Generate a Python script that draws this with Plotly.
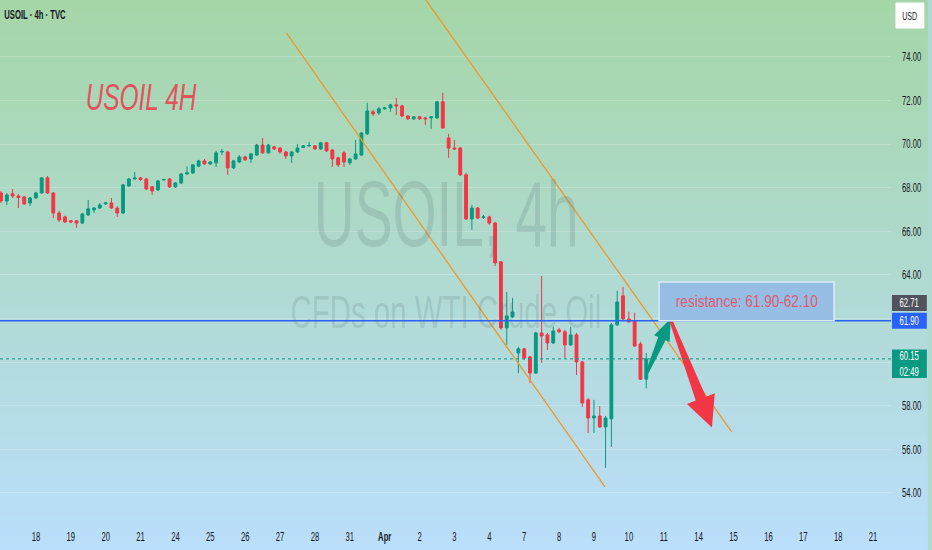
import json, zlib, struct, base64
import plotly.graph_objects as go

# ---------------- data ----------------
day_labels = ["17", "18", "19", "20", "21", "24", "25", "26", "27", "28", "31", "Apr",
              "2", "3", "4", "7", "8", "9", "10", "11", "14", "15", "16", "17", "18", "21"]
bars_per_day = 6

opens = [67.76, 67.39, 67.72, 67.62, 67.58, 67.30, 67.53, 67.76, 68.45, 67.76,
         66.84, 66.66, 66.48, 66.48, 66.38, 66.75, 66.98, 67.07, 67.26, 67.30,
         67.07, 66.84, 68.08, 68.40, 68.45, 68.40, 68.04, 67.90, 68.36, 68.40,
         68.04, 68.22, 68.63, 68.68, 68.99, 69.23, 69.09, 69.14, 69.64, 69.64,
         68.91, 69.18, 69.41, 69.32, 69.50, 69.96, 69.60, 69.87, 69.82, 69.64,
         69.46, 69.64, 69.85, 69.92, 69.92, 69.78, 70.06, 69.73, 69.37, 69.60,
         69.14, 69.32, 69.50, 70.47, 71.48, 71.43, 71.62, 71.66, 71.80, 71.75,
         71.29, 71.16, 71.25, 71.20, 71.20, 71.20, 71.94, 70.28, 69.82, 69.82,
         68.59, 66.57, 67.07, 66.64, 66.66, 66.38, 64.60, 61.57, 62.08, 60.42,
         60.61, 60.24, 59.50, 61.34, 61.25, 60.88, 61.48, 61.39, 60.79, 61.25,
         60.01, 58.27, 57.44, 57.53, 57.03, 57.40, 61.71, 63.04, 61.98, 61.89,
         60.83, 59.22]
highs = [67.85, 67.76, 67.94, 67.72, 67.62, 67.58, 67.81, 68.49, 68.54, 67.80,
         66.94, 66.71, 66.52, 66.52, 66.84, 67.44, 67.12, 67.30, 67.35, 67.53,
         67.16, 68.17, 68.45, 68.72, 68.49, 68.45, 68.08, 68.36, 68.40, 68.45,
         68.26, 68.68, 68.98, 69.09, 69.28, 69.32, 69.23, 69.69, 69.78, 69.69,
         69.28, 69.50, 69.46, 69.60, 70.01, 70.28, 70.01, 69.92, 69.87, 69.69,
         69.69, 70.01, 69.96, 70.10, 69.96, 70.10, 70.10, 69.78, 69.41, 69.69,
         69.37, 70.19, 70.56, 71.89, 71.57, 71.71, 71.71, 71.85, 72.12, 71.80,
         71.34, 71.29, 71.29, 71.25, 71.29, 71.98, 72.35, 70.47, 70.19, 69.87,
         68.68, 67.21, 67.12, 66.75, 66.71, 66.43, 64.64, 63.22, 62.95, 60.70,
         60.65, 60.28, 61.39, 63.95, 61.34, 61.62, 61.57, 61.48, 61.62, 61.34,
         60.06, 58.36, 58.27, 57.99, 57.53, 61.80, 63.27, 63.45, 62.31, 62.27,
         60.93, 60.42]
lows = [67.30, 67.21, 67.53, 67.07, 67.21, 67.16, 67.49, 67.72, 67.72, 66.61,
        66.43, 66.38, 66.38, 66.16, 66.34, 66.71, 66.84, 67.03, 67.21, 67.03,
        66.66, 66.80, 68.04, 68.36, 68.31, 67.90, 67.67, 67.85, 68.31, 67.99,
        67.99, 68.17, 68.59, 68.63, 68.94, 69.05, 69.05, 68.95, 69.50, 68.59,
        68.86, 69.14, 69.23, 69.14, 69.46, 69.55, 69.55, 69.73, 69.55, 69.32,
        69.14, 69.60, 69.82, 69.87, 69.73, 69.73, 69.64, 68.95, 68.95, 68.95,
        69.05, 69.28, 69.46, 70.42, 71.29, 71.34, 71.57, 71.48, 71.34, 71.25,
        71.11, 71.11, 71.11, 70.88, 70.70, 71.16, 70.70, 69.37, 69.73, 68.54,
        66.52, 66.07, 66.57, 66.57, 66.30, 64.41, 61.48, 60.79, 62.03, 59.50,
        60.10, 59.05, 59.46, 59.96, 60.56, 60.84, 61.34, 60.19, 60.74, 59.41,
        57.95, 56.75, 56.75, 56.98, 55.15, 56.11, 61.66, 61.94, 61.80, 60.70,
        59.18, 58.80]
closes = [67.39, 67.67, 67.62, 67.55, 67.26, 67.53, 67.76, 68.45, 67.76, 66.84,
          66.52, 66.43, 66.43, 66.38, 66.80, 67.03, 67.07, 67.21, 67.30, 67.07,
          66.84, 68.13, 68.40, 68.45, 68.38, 67.94, 67.85, 68.31, 68.38, 68.04,
          68.22, 68.63, 68.68, 69.05, 69.23, 69.09, 69.18, 69.60, 69.66, 68.91,
          69.23, 69.41, 69.28, 69.55, 69.96, 69.60, 69.96, 69.78, 69.64, 69.46,
          69.64, 69.82, 69.92, 69.94, 69.78, 70.06, 69.69, 69.32, 69.05, 69.18,
          69.32, 69.55, 70.51, 71.52, 71.39, 71.62, 71.66, 71.80, 71.75, 71.29,
          71.16, 71.25, 71.16, 71.16, 71.25, 71.94, 70.74, 69.82, 69.78, 68.59,
          66.57, 67.07, 66.61, 66.66, 66.38, 64.55, 61.57, 62.12, 62.30, 60.61,
          60.19, 59.50, 61.34, 61.20, 60.88, 61.43, 61.39, 60.79, 61.25, 60.01,
          58.13, 57.44, 57.53, 57.03, 57.44, 61.71, 62.76, 61.98, 61.85, 60.74,
          59.22, 60.15]

price_ticks = [54, 56, 58, 60, 62, 64, 66, 68, 70, 72, 74]
resistance_level = 61.90
last_price = 60.15
countdown = "02:49"
marker_price = 62.71

# drawings (bar index, price)
upper_channel_x = [73.1, 125.7]
upper_channel_y = [76.61, 56.80]
lower_channel_x = [49.1, 103.9]
lower_channel_y = [75.10, 54.28]
resistance_box_x = [113.2, 143.3]
resistance_box_y = [61.90, 63.68]
resistance_text = "resistance: 61.90-62.10"
up_arrow = [(111.1, 59.5), (115.2, 62.0)]
down_arrow = [(115.1, 62.0), (122.3, 57.0)]

# ---------------- style ----------------
W, H = 932, 550
ML, MR, MT, MB = 0, 37, 0, 30
PW, PH = W - ML - MR, H - MT - MB
XR = [-0.17, 153.1]
YR = [52.76, 76.61]
SX = PW / (XR[1] - XR[0])
SY = PH / (YR[1] - YR[0])

GREEN = "#089981"
RED = "#F23645"
ORANGE = "rgb(240,152,40)"
BLUE = "#2962FF"
TXT = "#131722"
FONT = "Liberation Sans, Arial, sans-serif"


def px_x(p):
    return p / PW


def px_y(p):
    return 1 - p / PH


def gradient_png(h, top, bot):
    raw = b""
    for i in range(h):
        t = i / (h - 1)
        c = [round(top[j] + (bot[j] - top[j]) * t) for j in range(3)]
        raw += b"\x00" + bytes(c)

    def chunk(tag, data):
        return (struct.pack(">I", len(data)) + tag + data +
                struct.pack(">I", zlib.crc32(tag + data) & 0xffffffff))

    png = (b"\x89PNG\r\n\x1a\n" +
           chunk(b"IHDR", struct.pack(">IIBBBBB", 1, h, 8, 2, 0, 0, 0)) +
           chunk(b"IDAT", zlib.compress(raw)) + chunk(b"IEND", b""))
    return "data:image/png;base64," + base64.b64encode(png).decode()


def arrow_poly(start, end, w_tail, w_neck, head_len, head_w):
    x0, y0 = (start[0] - XR[0]) * SX, (start[1] - YR[0]) * SY
    x1, y1 = (end[0] - XR[0]) * SX, (end[1] - YR[0]) * SY
    dx, dy = x1 - x0, y1 - y0
    L = (dx * dx + dy * dy) ** 0.5
    ux, uy = dx / L, dy / L
    nx, ny = -uy, ux
    bx, by = x1 - ux * head_len, y1 - uy * head_len
    pts = [
        (x0 + nx * w_tail / 2, y0 + ny * w_tail / 2),
        (bx + nx * w_neck / 2, by + ny * w_neck / 2),
        (bx + nx * head_w / 2, by + ny * head_w / 2),
        (x1, y1),
        (bx - nx * head_w / 2, by - ny * head_w / 2),
        (bx - nx * w_neck / 2, by - ny * w_neck / 2),
        (x0 - nx * w_tail / 2, y0 - ny * w_tail / 2),
    ]
    pts.append(pts[0])
    xs = [p[0] / SX + XR[0] for p in pts]
    ys = [p[1] / SY + YR[0] for p in pts]
    return xs, ys


fig = go.Figure()

bar_x = [i for i in range(len(opens))]
fig.add_trace(go.Candlestick(
    x=bar_x, open=opens, high=highs, low=lows, close=closes,
    increasing=dict(line=dict(color=GREEN, width=1), fillcolor=GREEN),
    decreasing=dict(line=dict(color=RED, width=1), fillcolor=RED),
    whiskerwidth=0, hoverinfo="skip", showlegend=False,
))

for cx, cy in [(upper_channel_x, upper_channel_y), (lower_channel_x, lower_channel_y)]:
    fig.add_trace(go.Scatter(x=cx, y=cy, mode="lines",
                             line=dict(color=ORANGE, width=1.3),
                             hoverinfo="skip", showlegend=False))

ax, ay = arrow_poly(up_arrow[0], up_arrow[1], 3, 8, 22, 17)
fig.add_trace(go.Scatter(x=ax, y=ay, mode="lines", fill="toself", fillcolor=GREEN,
                         line=dict(width=0, color=GREEN), hoverinfo="skip", showlegend=False))
ax, ay = arrow_poly(down_arrow[0], down_arrow[1], 3, 11, 31, 30)
fig.add_trace(go.Scatter(x=ax, y=ay, mode="lines", fill="toself", fillcolor=RED,
                         line=dict(width=0, color=RED), hoverinfo="skip", showlegend=False))

shapes = [
    dict(type="line", xref="paper", x0=0, x1=1, yref="y", y0=resistance_level, y1=resistance_level,
         line=dict(color=BLUE, width=1.5), layer="above"),
    dict(type="line", xref="paper", x0=0, x1=1, yref="y", y0=last_price, y1=last_price,
         line=dict(color=GREEN, width=1, dash="dot"), layer="above"),
    dict(type="rect", xref="x", yref="y", x0=resistance_box_x[0], x1=resistance_box_x[1],
         y0=resistance_box_y[0], y1=resistance_box_y[1],
         fillcolor="rgb(150,190,228)", line=dict(color="rgb(222,236,250)", width=1.5), layer="above"),
]

# price-scale labels
lab_x0, lab_x1 = px_x(896), px_x(931)
hh = 8 / SY
for val, col in [(marker_price, "#50535E"), (resistance_level, BLUE)]:
    shapes.append(dict(type="rect", xref="paper", yref="y", x0=lab_x0, x1=lab_x1,
                       y0=val - hh, y1=val + hh, fillcolor=col, line=dict(width=0)))
shapes.append(dict(type="rect", xref="paper", yref="y", x0=lab_x0, x1=lab_x1,
                   y0=last_price - 19 / SY, y1=last_price + 9.5 / SY, fillcolor=GREEN, line=dict(width=0)))
# USD box
shapes.append(dict(type="rect", xref="paper", yref="paper", x0=px_x(900), x1=px_x(928),
                   y0=px_y(28), y1=px_y(3), fillcolor="white", line=dict(color="white", width=1)))


def note(text, x, y, size, color, xref="paper", yref="paper", **fkw):
    return dict(text=text, xref=xref, yref=yref, x=x, y=y, xanchor="center", yanchor="middle",
                showarrow=False, font=dict(family=FONT, size=size, color=color, **fkw))


annotations = [
    note("USOIL, 4h", px_x(448), px_y(214), 93, "rgba(70,95,100,0.17)"),
    note("CFDs on WTI Crude Oil", px_x(448), px_y(312), 46, "rgba(70,95,100,0.17)"),
    note("USOIL · 4h · TVC", px_x(35.5), px_y(15), 12, TXT, weight="bold"),
    note("<i>USOIL 4H</i>", px_x(142), px_y(97), 37, "rgb(228,82,96)"),
    note(resistance_text, sum(resistance_box_x) / 2, sum(resistance_box_y) / 2, 17,
         "rgb(222,92,112)", xref="x", yref="y"),
    note("USD", px_x(914), px_y(15.5), 11, TXT),
    note(f"{marker_price:.2f}", px_x(913.5), marker_price, 12, "white", yref="y"),
    note(f"{resistance_level:.2f}", px_x(913.5), resistance_level, 12, "white", yref="y"),
    note(f"{last_price:.2f}<br>{countdown}", px_x(913.5), last_price - 4.8 / SY, 12, "white", yref="y"),
]

tick_text = [f"<b>{d}</b>" if d == "Apr" else d for d in day_labels]
# price-scale tick labels that sit under the price labels are hidden, as on the reference
covered = [marker_price, resistance_level, last_price]
y_tick_text = ["" if any(abs(v - c) * SY < 14 for c in covered) else f"{v:.2f}" for v in price_ticks]

fig.update_layout(
    width=W, height=H,
    margin=dict(l=ML, r=MR, t=MT, b=MB),
    paper_bgcolor="rgb(176,218,209)",
    plot_bgcolor="rgba(0,0,0,0)",
    font=dict(family=FONT, color=TXT, size=12),
    showlegend=False,
    shapes=shapes,
    annotations=annotations,
    images=[dict(source=gradient_png(H, (165, 214, 167), (187, 222, 251)),
                 xref="paper", yref="paper", x=0, y=1, sizex=W / PW, sizey=H / PH,
                 xanchor="left", yanchor="top", sizing="stretch", layer="below")],
    xaxis=dict(range=XR, tickvals=[i * bars_per_day for i in range(len(day_labels))],
               ticktext=tick_text, showgrid=False, zeroline=False, showline=False,
               ticks="", tickfont=dict(size=12, color=TXT), ticklabelstandoff=8,
               rangeslider=dict(visible=False), fixedrange=True),
    yaxis=dict(range=YR, side="right", tickvals=price_ticks, ticktext=y_tick_text,
               showgrid=True, gridcolor="rgba(255,255,255,0.2)", gridwidth=1,
               zeroline=False, showline=False, ticks="", ticklabelstandoff=10,
               tickfont=dict(size=12, color=TXT), fixedrange=True),
)

# narrow the glyphs horizontally (the reference text is condensed), pivoting on each text's anchor
special = {"USOIL, 4h": 0.61, "CFDs on WTI Crude Oil": 0.64, resistance_text: 0.8,
           "USOIL 4H": 0.66}
post = """
document.documentElement.style.margin = '0';
document.body.style.margin = '0';
document.body.style.padding = '0';
var gd = document.getElementById('{plot_id}');
var special = SPECIAL;
gd.querySelectorAll('svg text').forEach(function(t){
  var txt = t.textContent;
  if (!txt) return;
  var f = special.hasOwnProperty(txt) ? special[txt] : 0.64;
  var bb = t.getBBox();
  if (!bb.width) return;
  var anchor = t.getAttribute('text-anchor') || window.getComputedStyle(t).textAnchor || 'start';
  var px = bb.x + bb.width / 2;
  if (anchor === 'start') px = bb.x;
  if (anchor === 'end') px = bb.x + bb.width;
  var old = t.getAttribute('transform') || '';
  t.setAttribute('transform', old + ' translate(' + px + ',0) scale(' + f + ',1) translate(' + (-px) + ',0)');
});
""".replace("SPECIAL", json.dumps(special))

fig.write_html("out.html", config={"displayModeBar": False}, post_script=post)
